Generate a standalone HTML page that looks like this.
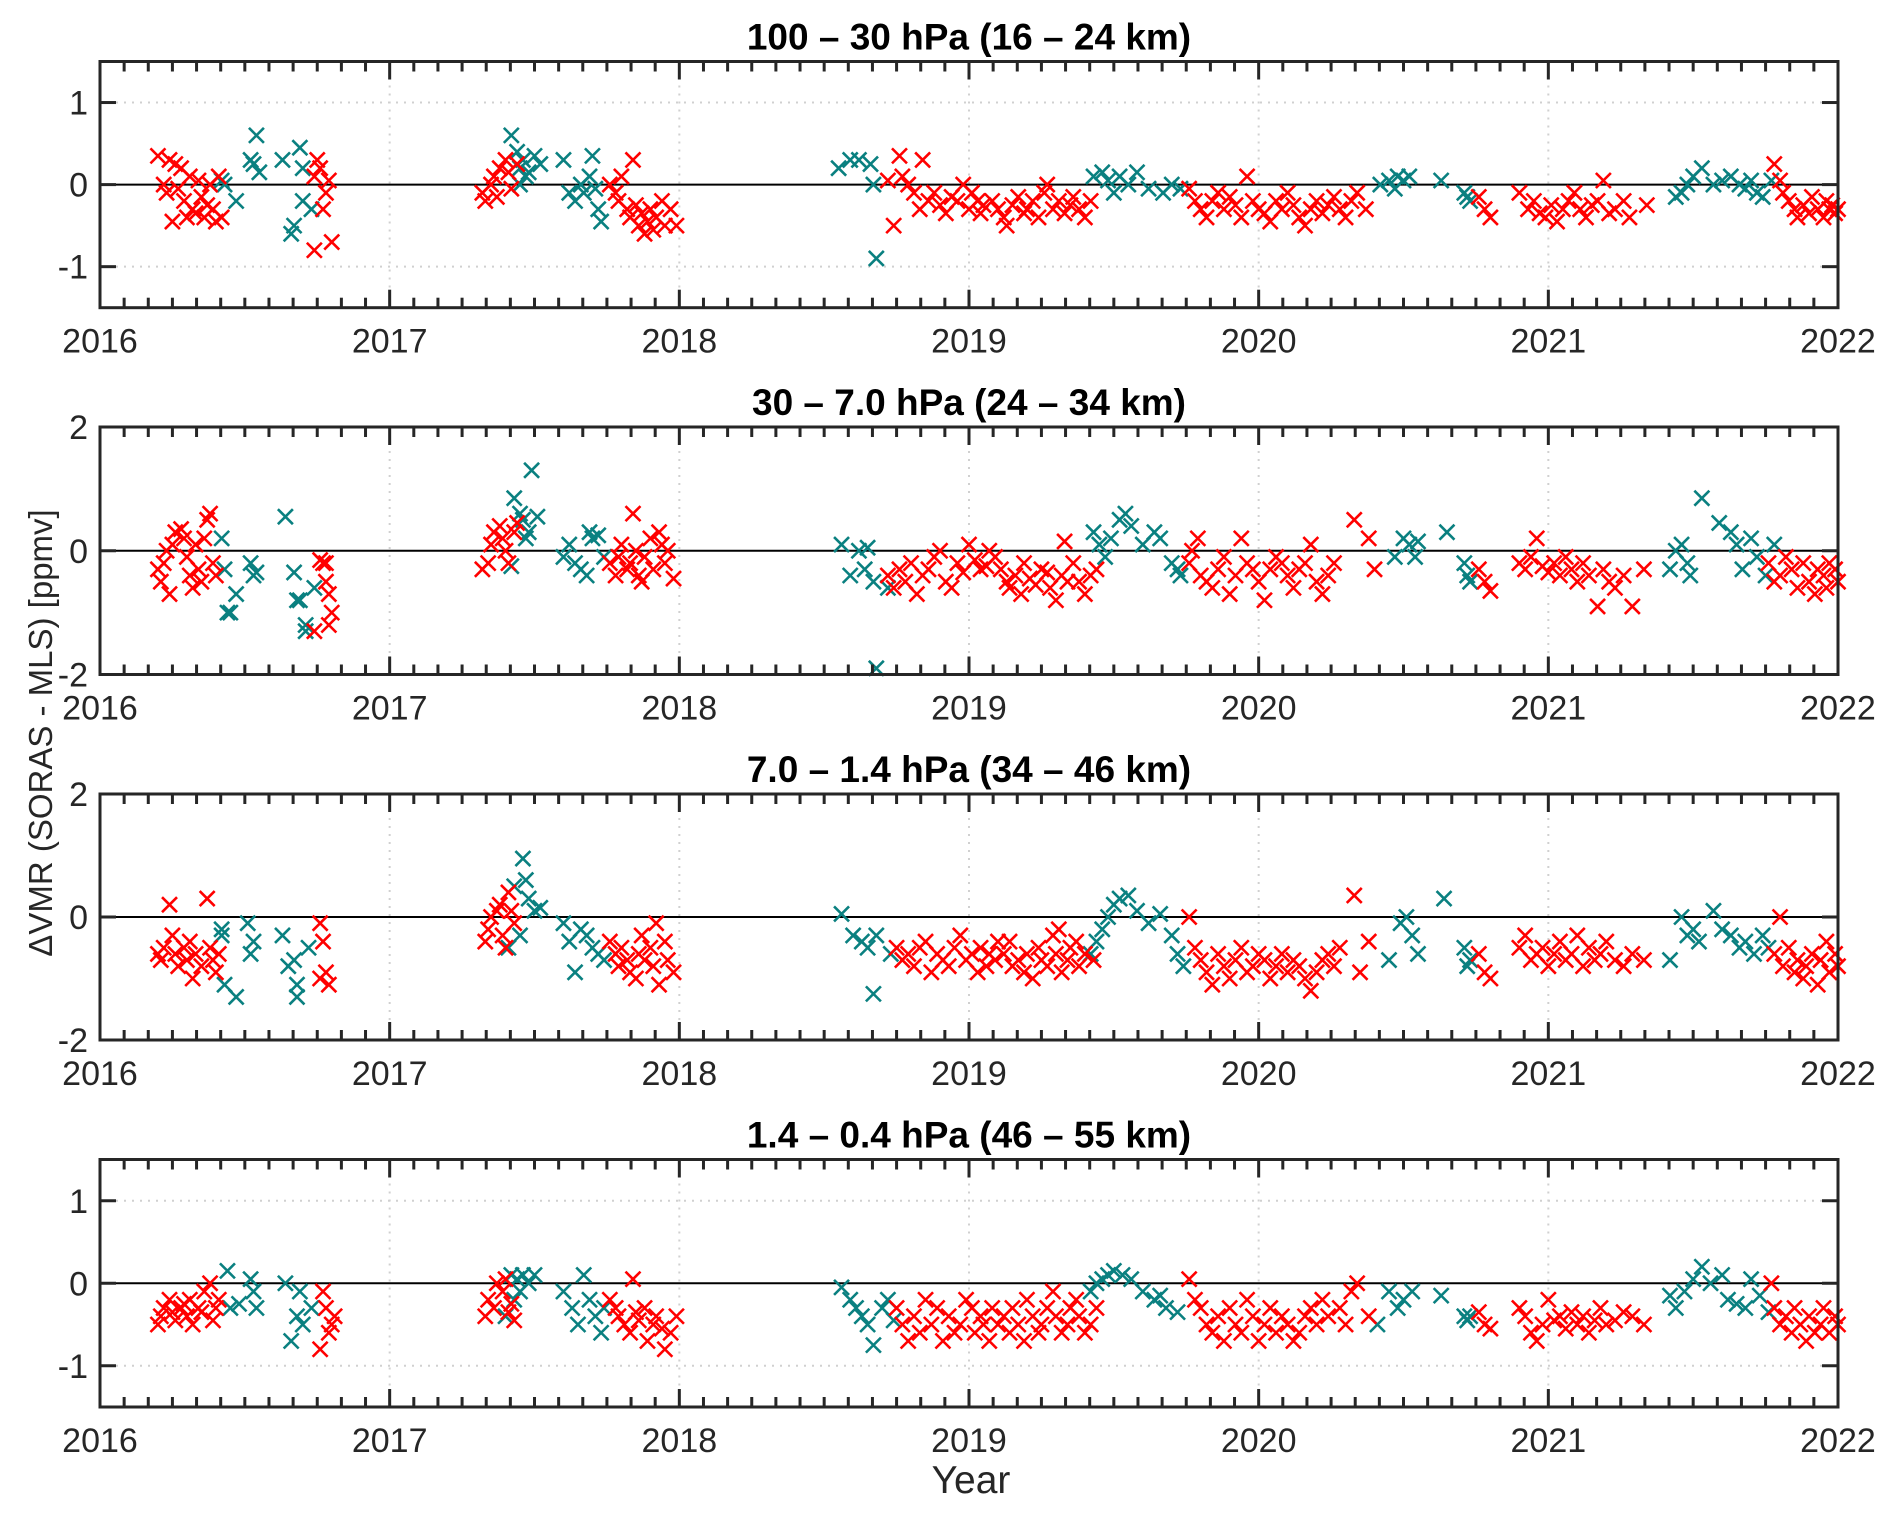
<!DOCTYPE html>
<html><head><meta charset="utf-8"><style>
html,body{margin:0;padding:0;background:#fff;}
svg{display:block;font-family:"Liberation Sans",Arial,sans-serif;}
</style></head><body>
<svg id="fig" width="1892" height="1513" viewBox="0 0 1892 1513" xmlns="http://www.w3.org/2000/svg">
<text x="0" y="0" transform="translate(52,733) rotate(-90)" text-anchor="middle" font-size="33" fill="#262626">ΔVMR (SORAS - MLS) [ppmv]</text>
<text x="971" y="1493" text-anchor="middle" font-size="39" fill="#262626">Year</text>
</svg>
<script>
const panelTitles = ["100 – 30 hPa (16 – 24 km)","30 – 7.0 hPa (24 – 34 km)","7.0 – 1.4 hPa (34 – 46 km)","1.4 – 0.4 hPa (46 – 55 km)"];
const yLimits = [[-1.5,1.5],[-2,2],[-2,2],[-1.5,1.5]];
const yTicks = [[-1,0,1],[-2,0,2],[-2,0,2],[-1,0,1]];
const xTicks = [2016,2017,2018,2019,2020,2021,2022];

const red1 = [[2016.20,0.35],[2016.22,0.0],[2016.23,-0.1],[2016.24,0.3],[2016.25,-0.45],[2016.26,0.25],[2016.27,-0.05],[2016.28,0.2],[2016.29,-0.2],[2016.30,-0.4],[2016.31,0.1],[2016.32,-0.3],[2016.33,-0.35],[2016.34,0.05],[2016.35,-0.15],[2016.36,-0.4],[2016.37,-0.25],[2016.38,0.0],[2016.39,-0.3],[2016.40,-0.45],[2016.41,0.1],[2016.42,-0.4],
[2016.74,0.1],[2016.75,0.3],[2016.76,0.2],[2016.77,-0.3],[2016.78,-0.1],[2016.79,0.05],[2016.74,-0.8],[2016.80,-0.7],
[2017.32,-0.1],[2017.33,-0.2],[2017.35,0.0],[2017.36,0.1],[2017.38,0.2],[2017.40,0.3],[2017.41,0.15],[2017.37,-0.15],[2017.42,-0.05],[2017.44,0.25],
[2017.76,0.0],[2017.78,-0.1],[2017.79,-0.2],[2017.80,0.1],[2017.82,-0.3],[2017.83,-0.4],[2017.84,0.3],[2017.85,-0.25],[2017.86,-0.5],[2017.87,-0.35],[2017.88,-0.6],[2017.89,-0.45],[2017.90,-0.3],[2017.91,-0.55],[2017.92,-0.4],[2017.94,-0.2],[2017.95,-0.5],[2017.97,-0.3],[2017.99,-0.5],
[2018.72,0.05],[2018.74,-0.5],[2018.76,0.35],[2018.77,0.1],[2018.79,0.0],[2018.81,-0.1],[2018.83,-0.3],[2018.84,0.3],[2018.86,-0.2],[2018.88,-0.1],[2018.90,-0.25],[2018.92,-0.35],[2018.94,-0.15],[2018.96,-0.2],[2018.98,0.0],[2019.00,-0.3],[2019.01,-0.1],[2019.03,-0.2],[2019.04,-0.35],[2019.05,-0.25],
[2019.08,-0.2],[2019.10,-0.3],[2019.12,-0.4],[2019.13,-0.5],[2019.15,-0.25],[2019.17,-0.15],[2019.19,-0.35],[2019.20,-0.3],[2019.22,-0.2],[2019.24,-0.4],[2019.26,-0.1],[2019.27,0.0],[2019.29,-0.3],[2019.31,-0.2],[2019.33,-0.35],[2019.35,-0.25],[2019.36,-0.15],[2019.38,-0.3],[2019.40,-0.4],[2019.42,-0.2],
[2019.76,-0.05],[2019.78,-0.2],[2019.80,-0.3],[2019.82,-0.4],[2019.84,-0.2],[2019.86,-0.1],[2019.88,-0.3],[2019.90,-0.15],[2019.92,-0.25],[2019.94,-0.4],[2019.96,0.1],[2019.98,-0.2],[2020.00,-0.3],[2020.02,-0.35],[2020.04,-0.45],[2020.06,-0.2],[2020.08,-0.3],[2020.10,-0.1],[2020.12,-0.25],[2020.14,-0.4],[2020.16,-0.5],[2020.18,-0.3],[2020.20,-0.2],[2020.22,-0.35],[2020.24,-0.25],[2020.26,-0.15],[2020.28,-0.3],[2020.30,-0.4],[2020.32,-0.2],[2020.34,-0.1],[2020.37,-0.3],
[2020.76,-0.15],[2020.78,-0.3],[2020.80,-0.4],
[2020.90,-0.1],[2020.93,-0.3],[2020.95,-0.2],[2020.97,-0.35],[2020.99,-0.4],[2021.01,-0.25],[2021.03,-0.45],[2021.05,-0.3],[2021.07,-0.2],[2021.09,-0.1],[2021.11,-0.3],[2021.13,-0.4],[2021.15,-0.25],[2021.17,-0.2],[2021.19,0.05],[2021.21,-0.35],[2021.23,-0.3],[2021.26,-0.2],[2021.28,-0.4],[2021.34,-0.25],
[2021.78,0.25],[2021.80,0.05],[2021.81,-0.1],[2021.83,-0.2],[2021.85,-0.3],[2021.86,-0.4],[2021.88,-0.25],[2021.90,-0.35],[2021.91,-0.15],[2021.93,-0.3],[2021.95,-0.4],[2021.96,-0.2],[2021.97,-0.3],[2021.98,-0.25],[2021.99,-0.35],[2022.00,-0.3]];
const teal1 = [[2016.42,0.05],[2016.43,0.0],[2016.47,-0.2],[2016.52,0.3],[2016.53,0.25],[2016.54,0.6],[2016.55,0.15],[2016.63,0.3],[2016.66,-0.6],[2016.67,-0.5],[2016.69,0.45],[2016.70,0.2],[2016.70,-0.2],[2016.73,-0.3],
[2017.42,0.6],[2017.44,0.4],[2017.45,0.2],[2017.46,0.3],[2017.47,0.1],[2017.48,0.15],[2017.50,0.35],[2017.52,0.25],[2017.45,0.0],
[2017.60,0.3],[2017.62,-0.1],[2017.64,-0.2],[2017.66,0.0],[2017.67,-0.1],[2017.70,0.35],[2017.69,0.1],[2017.72,-0.3],[2017.73,-0.45],[2017.71,-0.05],
[2018.55,0.2],[2018.59,0.3],[2018.62,0.3],[2018.66,0.25],[2018.67,0.0],[2018.68,-0.9],
[2019.43,0.1],[2019.46,0.15],[2019.48,0.05],[2019.50,-0.1],[2019.52,0.1],[2019.55,0.0],[2019.58,0.15],[2019.62,-0.05],[2019.67,-0.1],[2019.70,0.0],[2019.73,-0.05],
[2020.42,0.0],[2020.45,0.05],[2020.48,0.1],[2020.50,0.05],[2020.52,0.1],[2020.47,-0.05],[2020.63,0.05],
[2020.71,-0.1],[2020.72,-0.15],[2020.73,-0.2],
[2021.44,-0.15],[2021.46,-0.1],[2021.48,0.0],[2021.50,0.1],[2021.53,0.2],[2021.57,0.0],[2021.60,0.05],[2021.63,0.1],[2021.66,0.0],[2021.68,-0.05],[2021.70,0.05],[2021.72,-0.1],[2021.74,-0.15],[2021.77,0.05]];

const red2 = [[2016.20,-0.3],[2016.21,-0.5],[2016.22,-0.2],[2016.23,0.0],[2016.25,0.1],[2016.26,0.3],[2016.28,0.35],[2016.29,0.2],[2016.30,-0.1],[2016.31,-0.4],[2016.32,-0.6],[2016.24,-0.7],[2016.34,-0.3],[2016.35,-0.5],[2016.37,0.5],[2016.38,0.6],[2016.36,0.2],[2016.39,-0.2],[2016.40,-0.4],[2016.33,0.1],
[2016.76,-0.15],[2016.78,-0.2],[2016.78,-0.5],[2016.79,-0.7],[2016.80,-1.0],[2016.74,-1.3],[2016.79,-1.2],[2016.77,-0.2],
[2017.32,-0.3],[2017.34,-0.2],[2017.35,0.1],[2017.36,0.3],[2017.38,0.4],[2017.39,0.2],[2017.40,0.0],[2017.41,-0.2],[2017.43,0.3],[2017.44,0.45],
[2017.76,-0.2],[2017.78,-0.4],[2017.79,-0.1],[2017.80,0.1],[2017.84,0.6],[2017.82,-0.3],[2017.83,-0.2],[2017.85,0.0],[2017.86,-0.4],[2017.87,-0.5],[2017.88,-0.1],[2017.90,0.2],[2017.91,-0.3],[2017.93,0.3],[2017.94,0.1],[2017.95,-0.2],[2017.98,-0.45],[2017.96,0.0],
[2018.72,-0.4],[2018.74,-0.6],[2018.76,-0.3],[2018.78,-0.5],[2018.80,-0.2],[2018.82,-0.7],[2018.84,-0.4],[2018.86,-0.3],[2018.88,-0.1],[2018.90,0.0],[2018.92,-0.5],[2018.94,-0.6],[2018.96,-0.2],[2018.98,-0.35],[2019.00,0.1],[2019.02,-0.15],[2019.04,-0.3],[2019.06,-0.25],[2019.07,0.0],[2019.09,-0.1],
[2019.11,-0.3],[2019.13,-0.5],[2019.14,-0.6],[2019.16,-0.4],[2019.18,-0.7],[2019.19,-0.2],[2019.21,-0.45],[2019.23,-0.55],[2019.25,-0.3],[2019.27,-0.35],[2019.28,-0.6],[2019.30,-0.8],[2019.32,-0.4],[2019.34,-0.5],[2019.33,0.15],[2019.36,-0.2],[2019.38,-0.5],[2019.40,-0.7],[2019.42,-0.4],[2019.44,-0.3],
[2019.76,-0.2],[2019.77,0.0],[2019.79,0.2],[2019.80,-0.4],[2019.82,-0.5],[2019.84,-0.6],[2019.86,-0.3],[2019.88,-0.1],[2019.90,-0.7],[2019.92,-0.4],[2019.94,0.2],[2019.96,-0.2],[2019.98,-0.3],[2020.00,-0.5],[2020.02,-0.8],[2020.04,-0.3],[2020.06,-0.1],[2020.08,-0.2],[2020.10,-0.4],[2020.12,-0.6],[2020.14,-0.3],[2020.16,-0.2],[2020.18,0.1],[2020.20,-0.5],[2020.22,-0.7],[2020.24,-0.4],[2020.26,-0.2],[2020.33,0.5],[2020.38,0.2],[2020.40,-0.3],
[2020.76,-0.3],[2020.78,-0.5],[2020.80,-0.65],
[2020.90,-0.2],[2020.92,-0.3],[2020.94,-0.1],[2020.96,0.2],[2020.98,-0.25],[2021.00,-0.35],[2021.02,-0.2],[2021.04,-0.4],[2021.06,-0.1],[2021.08,-0.3],[2021.10,-0.5],[2021.12,-0.2],[2021.14,-0.4],[2021.17,-0.9],[2021.19,-0.3],[2021.21,-0.5],[2021.23,-0.6],[2021.26,-0.4],[2021.29,-0.9],[2021.33,-0.3],
[2021.76,-0.2],[2021.78,-0.5],[2021.80,-0.4],[2021.82,-0.1],[2021.84,-0.3],[2021.86,-0.6],[2021.88,-0.2],[2021.90,-0.5],[2021.92,-0.7],[2021.93,-0.3],[2021.95,-0.4],[2021.96,-0.6],[2021.97,-0.2],[2021.99,-0.3],[2022.00,-0.5]];
const teal2 = [[2016.42,0.2],[2016.43,-0.3],[2016.44,-1.0],[2016.45,-1.0],[2016.47,-0.7],[2016.52,-0.2],[2016.53,-0.4],[2016.54,-0.35],[2016.64,0.55],[2016.67,-0.35],[2016.68,-0.8],[2016.69,-0.8],[2016.71,-1.2],[2016.71,-1.3],[2016.74,-0.6],
[2017.43,0.85],[2017.45,0.6],[2017.46,0.5],[2017.47,0.2],[2017.48,0.3],[2017.49,1.3],[2017.51,0.55],[2017.42,-0.25],
[2017.60,-0.1],[2017.62,0.1],[2017.64,-0.2],[2017.69,0.3],[2017.70,0.2],[2017.66,-0.3],[2017.68,-0.4],[2017.72,0.25],[2017.74,-0.1],
[2018.56,0.1],[2018.59,-0.4],[2018.62,0.0],[2018.64,-0.3],[2018.65,0.05],[2018.67,-0.5],[2018.68,-1.9],[2018.72,-0.6],
[2019.43,0.3],[2019.45,0.1],[2019.47,-0.1],[2019.49,0.2],[2019.52,0.5],[2019.54,0.6],[2019.56,0.4],[2019.60,0.1],[2019.64,0.3],[2019.66,0.2],[2019.70,-0.2],[2019.72,-0.3],[2019.73,-0.4],
[2020.47,-0.1],[2020.50,0.2],[2020.52,0.1],[2020.54,-0.1],[2020.55,0.15],[2020.65,0.3],
[2020.71,-0.2],[2020.72,-0.4],[2020.73,-0.5],
[2021.42,-0.3],[2021.44,0.0],[2021.46,0.1],[2021.48,-0.2],[2021.49,-0.4],[2021.53,0.85],[2021.59,0.45],[2021.63,0.3],[2021.65,0.1],[2021.67,-0.3],[2021.70,0.2],[2021.72,-0.1],[2021.75,-0.4],[2021.78,0.1]];

const red3 = [[2016.20,-0.6],[2016.21,-0.7],[2016.22,-0.5],[2016.24,0.2],[2016.25,-0.3],[2016.26,-0.6],[2016.27,-0.8],[2016.29,-0.5],[2016.30,-0.7],[2016.31,-0.4],[2016.32,-1.0],[2016.33,-0.6],[2016.35,-0.8],[2016.37,0.3],[2016.38,-0.5],[2016.39,-0.7],[2016.40,-0.9],[2016.41,-0.6],
[2016.76,-0.1],[2016.77,-0.4],[2016.76,-1.0],[2016.78,-0.9],[2016.79,-1.1],
[2017.33,-0.4],[2017.34,-0.2],[2017.35,0.0],[2017.37,0.1],[2017.38,0.2],[2017.39,-0.3],[2017.41,0.4],[2017.42,0.1],[2017.43,-0.1],[2017.40,-0.5],
[2017.76,-0.4],[2017.78,-0.6],[2017.79,-0.8],[2017.80,-0.5],[2017.82,-0.7],[2017.83,-0.9],[2017.85,-1.0],[2017.86,-0.6],[2017.87,-0.3],[2017.88,-0.7],[2017.90,-0.5],[2017.91,-0.8],[2017.93,-1.1],[2017.92,-0.1],[2017.95,-0.4],[2017.96,-0.7],[2017.98,-0.9],
[2018.75,-0.5],[2018.77,-0.7],[2018.79,-0.6],[2018.81,-0.8],[2018.83,-0.5],[2018.85,-0.4],[2018.87,-0.9],[2018.89,-0.6],[2018.91,-0.7],[2018.93,-0.8],[2018.95,-0.5],[2018.97,-0.3],[2018.99,-0.7],[2019.01,-0.6],[2019.03,-0.9],[2019.04,-0.5],[2019.06,-0.8],[2019.07,-0.6],[2019.09,-0.7],[2019.10,-0.4],
[2019.12,-0.6],[2019.14,-0.4],[2019.15,-0.8],[2019.17,-0.7],[2019.19,-0.9],[2019.20,-0.6],[2019.22,-1.0],[2019.24,-0.5],[2019.25,-0.7],[2019.27,-0.8],[2019.29,-0.3],[2019.30,-0.6],[2019.32,-0.9],[2019.34,-0.7],[2019.35,-0.5],[2019.37,-0.4],[2019.38,-0.8],[2019.40,-0.6],[2019.31,-0.2],[2019.43,-0.7],
[2019.76,0.0],[2019.78,-0.5],[2019.80,-0.7],[2019.82,-0.9],[2019.84,-1.1],[2019.86,-0.6],[2019.88,-0.8],[2019.90,-1.0],[2019.92,-0.7],[2019.94,-0.5],[2019.96,-0.9],[2019.98,-0.8],[2020.00,-0.6],[2020.02,-0.7],[2020.04,-1.0],[2020.06,-0.8],[2020.08,-0.6],[2020.10,-0.9],[2020.12,-0.7],[2020.14,-0.8],[2020.16,-1.0],[2020.18,-1.2],[2020.20,-0.9],[2020.22,-0.7],[2020.24,-0.6],[2020.26,-0.8],[2020.28,-0.5],[2020.33,0.35],[2020.35,-0.9],[2020.38,-0.4],
[2020.76,-0.6],[2020.78,-0.9],[2020.80,-1.0],
[2020.90,-0.5],[2020.92,-0.3],[2020.94,-0.7],[2020.96,-0.6],[2020.98,-0.5],[2021.00,-0.8],[2021.02,-0.6],[2021.04,-0.4],[2021.06,-0.7],[2021.08,-0.6],[2021.10,-0.3],[2021.12,-0.8],[2021.14,-0.5],[2021.16,-0.7],[2021.18,-0.6],[2021.20,-0.4],[2021.23,-0.7],[2021.26,-0.8],[2021.29,-0.6],[2021.33,-0.7],
[2021.80,0.0],[2021.78,-0.6],[2021.81,-0.8],[2021.83,-0.5],[2021.85,-0.9],[2021.86,-0.7],[2021.88,-1.0],[2021.89,-0.8],[2021.91,-0.6],[2021.93,-1.1],[2021.94,-0.7],[2021.96,-0.4],[2021.97,-0.9],[2021.99,-0.6],[2022.00,-0.8]];
const teal3 = [[2016.42,-0.3],[2016.43,-1.1],[2016.47,-1.3],[2016.42,-0.2],[2016.52,-0.6],[2016.53,-0.4],[2016.51,-0.1],[2016.63,-0.3],[2016.65,-0.8],[2016.67,-0.7],[2016.68,-1.3],[2016.68,-1.1],[2016.72,-0.5],
[2017.43,0.5],[2017.46,0.95],[2017.47,0.6],[2017.48,0.3],[2017.50,0.1],[2017.45,-0.3],[2017.52,0.15],[2017.41,-0.5],
[2017.60,-0.1],[2017.62,-0.4],[2017.64,-0.9],[2017.66,-0.2],[2017.68,-0.3],[2017.70,-0.5],[2017.72,-0.6],[2017.74,-0.7],
[2018.56,0.05],[2018.60,-0.3],[2018.63,-0.4],[2018.65,-0.5],[2018.67,-1.25],[2018.68,-0.3],[2018.73,-0.6],
[2019.42,-0.6],[2019.44,-0.4],[2019.46,-0.2],[2019.48,0.0],[2019.50,0.2],[2019.52,0.3],[2019.55,0.35],[2019.58,0.1],[2019.62,-0.1],[2019.66,0.05],[2019.70,-0.3],[2019.72,-0.6],[2019.74,-0.8],
[2020.45,-0.7],[2020.49,-0.1],[2020.51,0.0],[2020.53,-0.3],[2020.55,-0.6],[2020.64,0.3],
[2020.71,-0.5],[2020.72,-0.8],[2020.73,-0.7],
[2021.42,-0.7],[2021.46,0.0],[2021.48,-0.3],[2021.50,-0.2],[2021.52,-0.4],[2021.57,0.1],[2021.60,-0.2],[2021.63,-0.3],[2021.66,-0.5],[2021.68,-0.4],[2021.71,-0.6],[2021.74,-0.3],[2021.76,-0.5]];

const red4 = [[2016.20,-0.5],[2016.21,-0.4],[2016.22,-0.3],[2016.24,-0.2],[2016.25,-0.35],[2016.26,-0.45],[2016.28,-0.3],[2016.29,-0.25],[2016.30,-0.4],[2016.31,-0.2],[2016.32,-0.5],[2016.34,-0.3],[2016.35,-0.35],[2016.36,-0.1],[2016.38,0.0],[2016.39,-0.45],[2016.40,-0.3],[2016.41,-0.2],
[2016.77,-0.1],[2016.78,-0.3],[2016.79,-0.6],[2016.76,-0.8],[2016.80,-0.5],[2016.81,-0.4],
[2017.33,-0.4],[2017.34,-0.2],[2017.36,-0.3],[2017.37,0.0],[2017.39,-0.1],[2017.40,0.05],[2017.41,-0.35],[2017.42,-0.25],[2017.43,-0.45],
[2017.76,-0.2],[2017.78,-0.3],[2017.79,-0.4],[2017.81,-0.5],[2017.84,0.05],[2017.83,-0.6],[2017.85,-0.35],[2017.86,-0.45],[2017.88,-0.3],[2017.89,-0.7],[2017.91,-0.5],[2017.92,-0.4],[2017.94,-0.55],[2017.95,-0.8],[2017.97,-0.6],[2017.99,-0.4],
[2018.75,-0.3],[2018.77,-0.5],[2018.79,-0.7],[2018.81,-0.4],[2018.83,-0.6],[2018.85,-0.2],[2018.87,-0.5],[2018.89,-0.3],[2018.91,-0.7],[2018.93,-0.4],[2018.95,-0.6],[2018.97,-0.5],[2018.99,-0.2],[2019.01,-0.3],[2019.02,-0.6],[2019.04,-0.4],[2019.05,-0.5],[2019.07,-0.7],[2019.08,-0.3],[2019.10,-0.5],
[2019.12,-0.4],[2019.14,-0.6],[2019.15,-0.3],[2019.17,-0.5],[2019.19,-0.7],[2019.20,-0.2],[2019.22,-0.4],[2019.24,-0.6],[2019.25,-0.5],[2019.27,-0.3],[2019.29,-0.1],[2019.30,-0.4],[2019.32,-0.6],[2019.34,-0.5],[2019.35,-0.3],[2019.37,-0.2],[2019.38,-0.4],[2019.40,-0.6],[2019.42,-0.5],[2019.44,-0.3],
[2019.76,0.05],[2019.78,-0.2],[2019.80,-0.3],[2019.82,-0.5],[2019.84,-0.6],[2019.86,-0.4],[2019.88,-0.7],[2019.90,-0.3],[2019.92,-0.5],[2019.94,-0.6],[2019.96,-0.2],[2019.98,-0.4],[2020.00,-0.7],[2020.02,-0.5],[2020.04,-0.3],[2020.06,-0.6],[2020.08,-0.4],[2020.10,-0.5],[2020.12,-0.7],[2020.14,-0.6],[2020.16,-0.4],[2020.18,-0.3],[2020.20,-0.5],[2020.22,-0.2],[2020.24,-0.4],[2020.34,0.0],[2020.28,-0.3],[2020.30,-0.5],[2020.32,-0.1],[2020.38,-0.4],
[2020.76,-0.35],[2020.78,-0.5],[2020.80,-0.55],
[2020.90,-0.3],[2020.92,-0.4],[2020.94,-0.6],[2020.96,-0.7],[2020.98,-0.5],[2021.00,-0.2],[2021.02,-0.45],[2021.04,-0.4],[2021.06,-0.55],[2021.08,-0.35],[2021.10,-0.5],[2021.12,-0.4],[2021.14,-0.6],[2021.16,-0.45],[2021.18,-0.3],[2021.20,-0.5],[2021.23,-0.45],[2021.26,-0.35],[2021.29,-0.4],[2021.33,-0.5],
[2021.77,0.0],[2021.78,-0.3],[2021.80,-0.5],[2021.82,-0.4],[2021.84,-0.6],[2021.85,-0.3],[2021.87,-0.5],[2021.89,-0.7],[2021.90,-0.4],[2021.92,-0.6],[2021.94,-0.5],[2021.95,-0.3],[2021.97,-0.6],[2021.99,-0.4],[2022.00,-0.5]];
const teal4 = [[2016.44,0.15],[2016.45,-0.3],[2016.48,-0.25],[2016.52,0.05],[2016.53,-0.1],[2016.54,-0.3],[2016.64,0.0],[2016.66,-0.7],[2016.68,-0.4],[2016.69,-0.1],[2016.70,-0.5],[2016.73,-0.3],
[2017.42,0.1],[2017.44,0.05],[2017.46,0.1],[2017.48,0.0],[2017.45,-0.1],[2017.43,-0.2],[2017.50,0.1],[2017.40,-0.4],
[2017.60,-0.1],[2017.67,0.1],[2017.63,-0.3],[2017.65,-0.5],[2017.69,-0.2],[2017.71,-0.4],[2017.73,-0.6],[2017.74,-0.3],
[2018.56,-0.05],[2018.59,-0.2],[2018.61,-0.3],[2018.63,-0.4],[2018.65,-0.5],[2018.67,-0.75],[2018.70,-0.3],[2018.72,-0.2],[2018.74,-0.45],
[2019.42,-0.1],[2019.44,0.0],[2019.46,0.05],[2019.48,0.1],[2019.50,0.15],[2019.53,0.1],[2019.56,0.05],[2019.60,-0.1],[2019.64,-0.2],[2019.68,-0.3],[2019.66,-0.15],[2019.72,-0.35],
[2020.41,-0.5],[2020.45,-0.1],[2020.48,-0.3],[2020.50,-0.2],[2020.53,-0.1],[2020.63,-0.15],
[2020.71,-0.4],[2020.72,-0.45],[2020.73,-0.4],
[2021.42,-0.15],[2021.44,-0.3],[2021.47,-0.1],[2021.50,0.05],[2021.53,0.2],[2021.56,0.0],[2021.60,0.1],[2021.62,-0.2],[2021.65,-0.25],[2021.68,-0.3],[2021.70,0.05],[2021.73,-0.15],[2021.76,-0.35]];

const redSeries = [red1, red2, red3, red4];
const tealSeries = [teal1, teal2, teal3, teal4];

const NS = "http://www.w3.org/2000/svg";
const svg = document.getElementById('fig');
const X0 = 100, X1 = 1838, YEAR0 = 2016, YEAR1 = 2022;
const panelBox = [[61.5,307.7],[427,674.5],[794,1040],[1159.5,1407]];
function xScale(t){ return X0 + (t - YEAR0) / (YEAR1 - YEAR0) * (X1 - X0); }
function mk(tag, attrs, parent){ const e = document.createElementNS(NS, tag); for (const k in attrs) e.setAttribute(k, attrs[k]); (parent||svg).appendChild(e); return e; }

for (let p = 0; p < 4; p++) {
  const top = panelBox[p][0], bot = panelBox[p][1];
  const lo = yLimits[p][0], hi = yLimits[p][1];
  const yScale = v => bot - (v - lo) / (hi - lo) * (bot - top);
  const g = mk('g', {});
  
  
  const title = mk('text', {x: (X0+X1)/2, y: top - 12, 'text-anchor':'middle', 'font-size':37, 'font-weight':'bold', fill:'#000'}, g);
  title.textContent = panelTitles[p];
  
  
  for (const yt of yTicks[p]) {
    if (yt === lo || yt === hi || yt === 0) continue;
    const gl = mk('line', {x1:X0, x2:X1, y1:yScale(yt), y2:yScale(yt), stroke:'#d0d0d0', 'stroke-width':2, 'stroke-dasharray':'2 6'}, g);
    
    
  }
  for (const xt of xTicks) {
    if (xt === YEAR0 || xt === YEAR1) continue;
    const gl = mk('line', {x1:xScale(xt), x2:xScale(xt), y1:top, y2:bot, stroke:'#d0d0d0', 'stroke-width':2, 'stroke-dasharray':'2 6'}, g);
    
    
  }
  const zl = mk('line', {x1:X0, x2:X1, y1:yScale(0), y2:yScale(0), stroke:'#000', 'stroke-width':2}, g);
  
  
  const drawSeries = (data, color, name) => {
    for (const d of data) {
      const cx = xScale(d[0]), cy = yScale(d[1]), s = 7.5;
      const m = mk('path', {d:`M${cx-s},${cy-s}L${cx+s},${cy+s}M${cx-s},${cy+s}L${cx+s},${cy-s}`, stroke:color, 'stroke-width':2.6, fill:'none'}, g);
      
      
    }
  };
  drawSeries(tealSeries[p], '#0a8080', 'teal-marker');
  drawSeries(redSeries[p], '#ff0000', 'red-marker');
  for (let yr = YEAR0; yr < YEAR1; yr++) {
    for (let mth = 0; mth < 12; mth++) {
      if (yr === YEAR0 && mth === 0) continue;
      const tx = xScale(yr + mth/12), len = mth === 0 ? 18 : 10;
      const t1 = mk('line', {x1:tx, x2:tx, y1:top, y2:top+len, stroke:'#262626', 'stroke-width':3}, g);
      
      
      const t2 = mk('line', {x1:tx, x2:tx, y1:bot, y2:bot-len, stroke:'#262626', 'stroke-width':3}, g);
      
      
    }
  }
  for (const yt of yTicks[p]) {
    const ty = yScale(yt);
    const a = mk('line', {x1:X0, x2:X0+16, y1:ty, y2:ty, stroke:'#262626', 'stroke-width':3}, g);
    
    
    const b = mk('line', {x1:X1, x2:X1-16, y1:ty, y2:ty, stroke:'#262626', 'stroke-width':3}, g);
    
    
    const lb = mk('text', {x:X0-12, y:ty+12, 'text-anchor':'end', 'font-size':34, fill:'#262626'}, g);
    lb.textContent = yt;
    
    
  }
  for (const xt of xTicks) {
    const lb = mk('text', {x:xScale(xt), y:bot+45, 'text-anchor':'middle', 'font-size':34, fill:'#262626'}, g);
    lb.textContent = xt;
    
    
  }
  const frame = mk('rect', {x:X0, y:top, width:X1-X0, height:bot-top, fill:'none', stroke:'#262626', 'stroke-width':3}, g);
  
  
}
</script>
</body></html>
